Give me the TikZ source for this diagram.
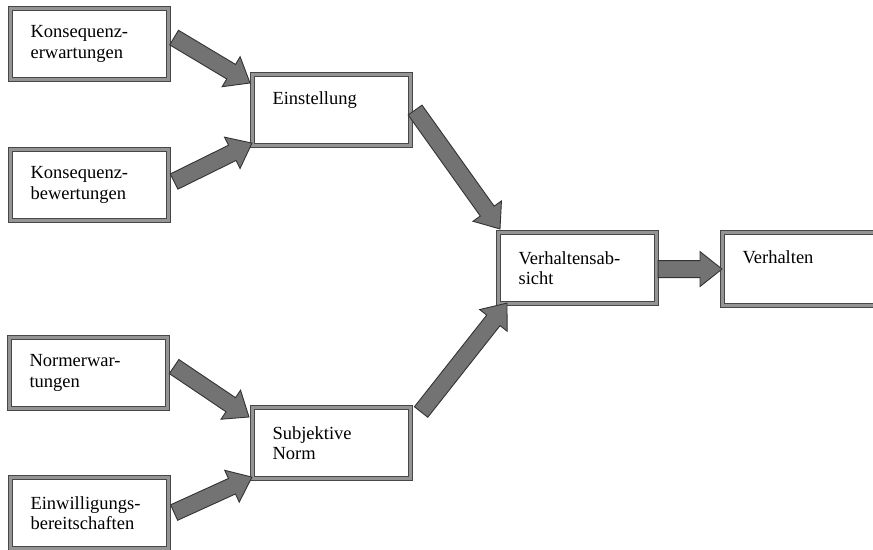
\documentclass[tikz,border=0pt]{standalone}
\usepackage{fontspec}
\setmainfont{Liberation Serif}
\usetikzlibrary{calc}

\tikzset{
  box/.style={draw=black!72,double=black!42,double distance=2.2pt,line width=1.1pt,fill=white,
    anchor=north west,minimum width=158,minimum height=71,inner xsep=20pt,inner ysep=0pt,
    text width=118pt,align=left,font=\fontsize{18.5}{20.7}\selectfont},
  oneline/.style={text depth=24.7pt},
  fat/.style={draw=black!80,fill=black!55,line width=0.9pt,line join=miter}
}

% block arrow from #1 to #2
\newcommand{\fatarrow}[2]{%
  \coordinate (hb) at ($(#2)!22pt!(#1)$);
  \draw[fat] ($(#1)!8.5pt!90:(#2)$) -- ($(hb)!8.5pt!90:(#2)$) -- ($(hb)!17.5pt!90:(#2)$) -- (#2)
    -- ($(hb)!17.5pt!-90:(#2)$) -- ($(hb)!8.5pt!-90:(#2)$) -- ($(#1)!8.5pt!-90:(#2)$) -- cycle;
}

\begin{document}
\begin{tikzpicture}[x=1pt,y=1pt]
\useasboundingbox (0,0) rectangle (873,-549);
\node[box] (kerw) at (10,-8) {Konsequenz-\\erwartungen};
\node[box] (kbew) at (10,-149) {Konsequenz-\\bewertungen};
\node[box,oneline] (einst) at (252,-74) {Einstellung};
\node[box] (vabs) at (498,-232) {Verhaltensab-\\sicht};
\node[box,oneline,minimum height=73] (verh) at (722,-232) {Verhalten};
\node[box] (nerw) at (9,-337) {Normerwar-\\tungen};
\node[box] (subj) at (252,-407) {Subjektive\\Norm};
\node[box] (einw) at (10,-477) {Einwilligungs-\\bereitschaften};

% arrow ends
\coordinate (a1s) at ($(kerw.east)+(5,6.5)$);
\coordinate (a1e) at ($(einst.north west)+(-2,-9)$);
\coordinate (a2s) at ($(kbew.east)+(5,3.5)$);
\coordinate (a2e) at ($(einst.south west)+(0,3)$);
\coordinate (a3s) at ($(einst.east)+(4,0)$);
\coordinate (a3e) at ($(vabs.north west)+(2,3)$);
\coordinate (a4s) at ($(subj.north east)+(10,-5)$);
\coordinate (a4e) at ($(vabs.south west)+(9,1)$);
\coordinate (a5s) at ($(vabs.east)+(1,-1)$);
\coordinate (a5e) at (verh.west);
\coordinate (a6s) at ($(nerw.east)+(6,6.5)$);
\coordinate (a6e) at ($(subj.north west)+(-3,-10)$);
\coordinate (a7s) at ($(einw.east)+(5,0.5)$);
\coordinate (a7e) at ($(subj.south west)+(0,2)$);

\fatarrow{a1s}{a1e}
\fatarrow{a2s}{a2e}
\fatarrow{a3s}{a3e}
\fatarrow{a4s}{a4e}
\fatarrow{a5s}{a5e}
\fatarrow{a6s}{a6e}
\fatarrow{a7s}{a7e}
\end{tikzpicture}
\end{document}
